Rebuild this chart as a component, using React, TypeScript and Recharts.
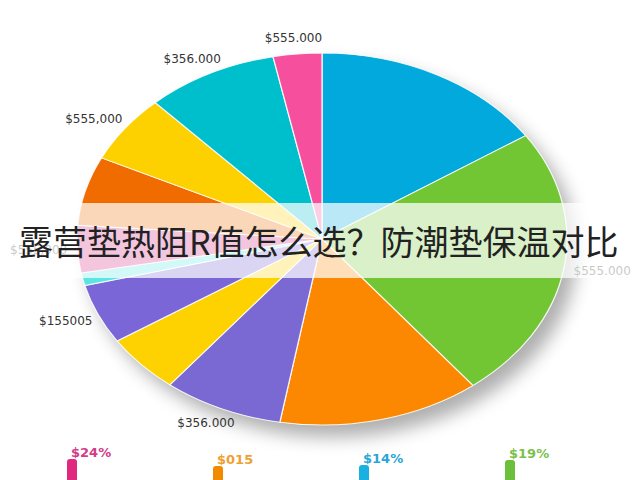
import { PieChart, Pie, Cell, BarChart, Bar, XAxis, YAxis, LabelList } from 'recharts'

// 饼图切片（顺时针，从正上方开始）
const sliceNames = ['蓝', '绿', '橙', '紫', '黄', '紫2', '青', '粉', '深橙', '黄2', '青绿', '玫红']
const sliceValues = [15.6, 23.8, 13.3, 7.9, 5.1, 5.2, 1.1, 4.1, 6.0, 5.9, 8.7, 3.2]
const sliceLabels = ['', '$555.000', '', '$356.000', '', '$155005', '', '$555,000', '', '$555,000', '$356.000', '$555.000']
const SLICE_COLORS = ['#02a9dc', '#72c634', '#fb8800', '#7b69d3', '#fdd200', '#7a66d6', '#5ee3e3', '#d42f86', '#f06c00', '#fdd000', '#00bfcd', '#f64f9e']

// 底部小柱
const barCats = ['$24%', '$015', '$14%', '$19%']
const barValues = [41, 34, 35, 40]
const BAR_COLORS = ['#e0287e', '#f28a00', '#19b2e0', '#6cbf3a']
const BAR_TEXT = ['#d43c88', '#eea033', '#2aa6d6', '#7cbf4c']

const TITLE = '露营垫热阻R值怎么选？防潮垫保温对比'

const R = 186
const SX = 245 / 186
const SIZE = 500
const CX = 322
const CY = 239
const RADIAN = Math.PI / 180

const pieData = sliceNames.map((name, i) => ({ name, value: sliceValues[i], label: sliceLabels[i] }))
const barData = barCats.map((name, i) => ({ name, value: barValues[i] }))

// 标签放在椭圆外侧，按文字半宽/半高外推
function SliceLabel(props: any) {
  const { cx, cy, midAngle, outerRadius, index } = props
  const text = sliceLabels[index]
  if (!text) return null
  const ux = Math.cos(-midAngle * RADIAN)
  const uy = Math.sin(-midAngle * RADIAN)
  const halfW = text.length * 3.6
  const gap = 10
  // 屏幕坐标下的偏移，x 方向再除以 SX 还原到未拉伸的坐标
  const x = cx + (outerRadius * SX * ux + gap * ux + halfW * ux) / SX
  const y = cy + outerRadius * uy + gap * uy + 6 * uy
  return (
    <text x={x} y={y} textAnchor="middle" dominantBaseline="central"
      transform={`translate(${x} ${y}) scale(${1 / SX} 1) translate(${-x} ${-y})`}
      fill="#333" fontSize={12} fontFamily="DejaVu Sans">
      {text}
    </text>
  )
}

function BarTag(props: any) {
  const { x, y, width, index, value } = props
  return (
    <text x={x + width / 2 - 1} y={y - 7} dominantBaseline="central" fill={BAR_TEXT[index]}
      fontSize={13} fontWeight={600} fontFamily="DejaVu Sans">
      {barCats[index] ?? value}
    </text>
  )
}

export default function App() {
  return (
    <div style={{ position: 'absolute', left: 0, top: 0, width: 640, height: 480, overflow: 'hidden', background: '#fff' }}>
      {/* 阴影 */}
      <div style={{
        position: 'absolute', left: CX - R * SX, top: CY - R, width: 2 * R * SX, height: 2 * R,
        borderRadius: '50%', background: '#fff', boxShadow: '10px 12px 18px rgba(0,0,0,0.32)',
      }} />
      <div style={{
        position: 'absolute', left: CX - SIZE / 2, top: CY - SIZE / 2, width: SIZE, height: SIZE,
        transform: `scaleX(${SX})`, transformOrigin: 'center center',
      }}>
        <PieChart width={SIZE} height={SIZE} margin={{ top: 0, right: 0, bottom: 0, left: 0 }}>
          <Pie data={pieData} dataKey="value" nameKey="name" cx="50%" cy="50%" outerRadius={R}
            startAngle={90} endAngle={-270} stroke="rgba(255,255,255,0.85)" strokeWidth={1}
            label={SliceLabel} labelLine={false} isAnimationActive={false}>
            {pieData.map((d, i) => <Cell key={d.name} fill={SLICE_COLORS[i]} />)}
          </Pie>
        </PieChart>
      </div>
      {/* 标题条 */}
      <div style={{
        position: 'absolute', left: 0, top: 203, width: 640, height: 75, background: 'rgba(255,255,255,0.73)',
        display: 'flex', alignItems: 'center', paddingLeft: 19, boxSizing: 'border-box',
        fontFamily: '"Noto Sans CJK SC", sans-serif', fontSize: 34, color: '#222', whiteSpace: 'nowrap',
      }}>
        {TITLE}
      </div>
      {/* 底部小柱 */}
      <div style={{ position: 'absolute', left: -1, top: 430 }}>
        <BarChart width={584} height={70} data={barData} margin={{ top: 0, right: 0, bottom: 0, left: 0 }} barSize={10}>
          <XAxis dataKey="name" hide />
          <YAxis hide domain={[0, 70]} />
          <Bar dataKey="value" radius={[3, 3, 0, 0]} isAnimationActive={false}>
            {barData.map((d, i) => <Cell key={d.name} fill={BAR_COLORS[i]} />)}
            <LabelList dataKey="value" content={BarTag} />
          </Bar>
        </BarChart>
      </div>
    </div>
  )
}
